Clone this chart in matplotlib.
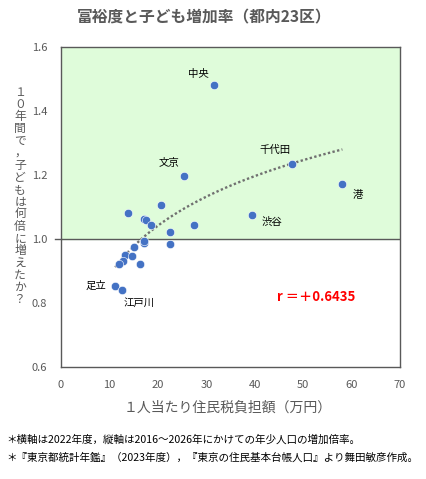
import numpy as np
import matplotlib.pyplot as plt

plt.rcParams['font.family'] = ['Noto Sans CJK JP', 'DejaVu Sans']

# ---- data ----
tax = [31.6, 25.4, 47.7, 58.1, 39.5, 11.2, 12.5,
       13.9, 20.7, 17.2, 17.5, 18.5, 27.5, 22.6, 22.6,
       17.1, 17.1, 15.1, 13.3, 14.7, 12.8, 11.9, 16.4]
growth = [1.481, 1.197, 1.234, 1.172, 1.075, 0.853, 0.840,
          1.080, 1.106, 1.061, 1.058, 1.043, 1.043, 1.022, 0.983,
          0.989, 0.995, 0.976, 0.950, 0.947, 0.932, 0.921, 0.921]
names = ['中央', '文京', '千代田', '港', '渋谷', '足立', '江戸川']
r_value = 0.6435

GRAY = '#595959'
BLUE = '#4472C4'

fig = plt.figure(figsize=(4.26, 4.79), dpi=100)
ax = fig.add_axes([61/426, 1-367/479, 339/426, 320/479])

ax.set_xlim(0, 70)
ax.set_ylim(0.6, 1.6)
ax.axhspan(1.0, 1.6, color='#DFFCDA', zorder=0)
ax.axhline(1.0, color=GRAY, lw=1.0, zorder=1)
ax.plot([-1.2, 0], [1.0, 1.0], color=GRAY, lw=1.0, clip_on=False)

# log trendline fitted to the points (Excel-style, from min x to max x)
x = np.array(tax)
y = np.array(growth)
b, a = np.polyfit(np.log(x), y, 1)
xs = np.linspace(x.min(), x.max(), 100)
ax.plot(xs, a + b*np.log(xs), color='#707070', lw=1.7, ls=(0, (1, 1)), zorder=2)

ax.scatter(x, y, s=36, color=BLUE, edgecolor='white', linewidth=0.4, zorder=3)

# district labels
offsets = {'中央': (-11, 8), '文京': (-11, 9), '千代田': (-12, 10), '港': (11, -8),
           '渋谷': (14, -5), '足立': (-14, 0), '江戸川': (13, -9)}
for i, nm in enumerate(names):
    ax.annotate(nm, (tax[i], growth[i]), textcoords='offset points',
                xytext=offsets[nm], ha='center', va='center', fontsize=7.5, color='black')

ax.text(52.7, 0.82, f'r ＝＋{r_value:.4f}', color='#FF0000', fontsize=9.5, fontweight='bold',
        ha='center', va='center')

ax.set_xticks(range(0, 71, 10))
ax.set_yticks([0.6, 0.8, 1.0, 1.2, 1.4, 1.6])
ax.set_yticklabels(['0.6', '0.8', '1.0', '1.2', '1.4', '1.6'])
ax.tick_params(length=0, labelsize=8, labelcolor=GRAY)
ax.tick_params(axis='x', pad=9)
ax.tick_params(axis='y', pad=10)
for s in ax.spines.values():
    s.set_color(GRAY)
    s.set_linewidth(1.0)

fig.text(204/426, 1-17/479, '富裕度と子ども増加率（都内23区）', ha='center', va='center',
         fontsize=11.3, fontweight='bold', color=GRAY)
fig.text(228/426, 1-408/479, '１人当たり住民税負担額（万円）', ha='center', va='center',
         fontsize=10, color=GRAY)

ylabel = '１０年間で，子どもは何倍に増えたか？'
fig.text(20/426, 1-196/479, '\n'.join(ylabel), ha='center', va='center',
         fontsize=8.5, color=GRAY, linespacing=0.92)

fig.text(6/426, 1-440/479, '＊横軸は2022年度，縦軸は2016～2026年にかけての年少人口の増加倍率。',
         ha='left', va='center', fontsize=7.6, color='black')
fig.text(6/426, 1-458/479, '＊『東京都統計年鑑』（2023年度），『東京の住民基本台帳人口』より舞田敏彦作成。',
         ha='left', va='center', fontsize=7.6, color='black')

fig.savefig('out.png', dpi=100)
